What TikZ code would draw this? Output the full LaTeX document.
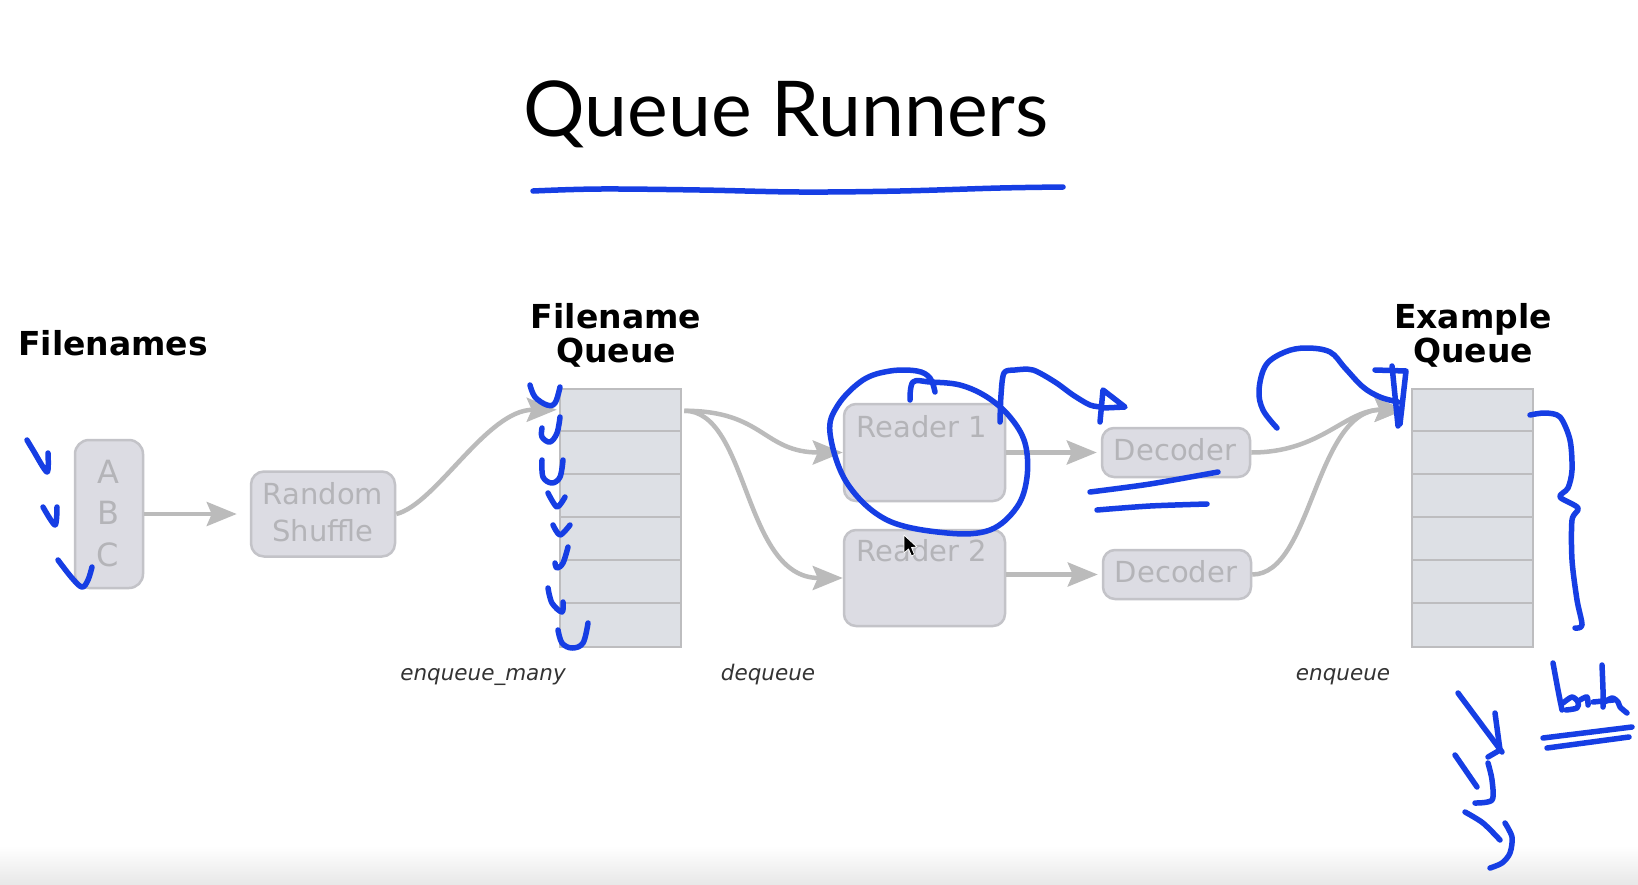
\documentclass[tikz,border=0pt]{standalone}
\usepackage{fontspec}
\setmainfont{DejaVu Sans}
\newfontfamily\titlefont{Lato}
\usetikzlibrary{arrows.meta,calc}

\definecolor{boxfill}{HTML}{DCDCE3}
\definecolor{boxline}{HTML}{C3C3C8}
\definecolor{boxtext}{HTML}{B4B4B8}
\definecolor{qfill}{HTML}{DDE0E5}
\definecolor{qline}{HTML}{BDBDBF}
\definecolor{arrowgray}{HTML}{BBBBBB}
\definecolor{opgray}{HTML}{333333}
\definecolor{inkblue}{RGB}{22,62,228}

\tikzset{
  gbox/.style={draw=boxline, fill=boxfill, line width=2.5pt, rounded corners=13pt, inner sep=0pt},
  qbox/.style={draw=qline, fill=qfill, line width=2.5pt, inner sep=0pt},
  rowline/.style={draw=qline, line width=2pt},
  boxtxt/.style={text=boxtext, font=\fontsize{29}{34}\selectfont, anchor=base, inner sep=0pt},
  head/.style={font=\fontsize{33}{34}\selectfont\bfseries, anchor=base, inner sep=0pt},
  opname/.style={font=\fontsize{21.5}{24}\selectfont\itshape, text=opgray, anchor=base, inner sep=0pt},
  flow/.style={draw=arrowgray, line width=4.5pt, -{Stealth[length=30pt,width=24pt,inset=5pt]}},
  ink/.style={draw=inkblue, line width=5.5pt, line cap=round, line join=round},
}

\begin{document}
\begin{tikzpicture}[x=1pt,y=-1pt]
\useasboundingbox (0,0) rectangle (1638,884);
\fill[white] (0,0) rectangle (1638,884);
\shade[top color=white, bottom color=black!9] (0,846) rectangle (1638,884);

% title
\node[font=\titlefont\fontsize{77}{90}\selectfont, anchor=base, inner sep=0pt] (title) at (786,136) {Queue Runners};

% headings
\node[head, anchor=base west] (hfiles) at (18,355) {Filenames};
\node[head] (hfq1) at (616,328) {Filename};
\node[head] (hfq2) at (616,362) {Queue};
\node[head] (heq1) at (1473,328) {Example};
\node[head] (heq2) at (1473,362) {Queue};

% filenames
\node[gbox, rounded corners=14pt, minimum width=68pt, minimum height=148pt] (abc) at (109,514) {};
\node[boxtxt, font=\fontsize{32}{34}\selectfont] (fa) at (108,483) {A};
\node[boxtxt, font=\fontsize{32}{34}\selectfont] (fb) at (108,524) {B};
\node[boxtxt, font=\fontsize{32}{34}\selectfont] (fc) at (108,566) {C};

% random shuffle
\node[gbox, minimum width=144pt, minimum height=85pt] (shuf) at (323,514) {};
\node[boxtxt] (shuf1) at (323,504) {Random};
\node[boxtxt] (shuf2) at (323,541) {Shuffle};

% filename queue
\node[qbox, minimum width=121pt, minimum height=258pt] (fq) at (620.5,518) {};
\foreach \k in {1,...,5}
  \draw[rowline] ($(fq.north west)+(0,43*\k)$) -- ($(fq.north east)+(0,43*\k)$);
\coordinate (fqin) at ($(fq.north west)+(-2,22)$);
\coordinate (fqout) at ($(fq.north east)+(2,23)$);

% readers
\node[gbox, rounded corners=12pt, minimum width=161pt, minimum height=97pt] (r1) at (924.5,452.5) {};
\node[boxtxt] (r1t) at (922,437) {Reader 1};
\node[gbox, rounded corners=12pt, minimum width=161pt, minimum height=96pt] (r2) at (924.5,578) {};
\node[boxtxt] (r2t) at (922,561) {Reader 2};

% decoders
\node[gbox, rounded corners=12pt, minimum width=148pt, minimum height=49pt] (d1) at (1176,452.5) {};
\node[boxtxt] (d1t) at (1175,460) {Decoder};
\node[gbox, rounded corners=12pt, minimum width=148pt, minimum height=49pt] (d2) at (1177,574.5) {};
\node[boxtxt] (d2t) at (1176,582) {Decoder};

% example queue
\node[qbox, minimum width=121pt, minimum height=258pt] (eq) at (1472.5,518) {};
\foreach \k in {1,...,5}
  \draw[rowline] ($(eq.north west)+(0,43*\k)$) -- ($(eq.north east)+(0,43*\k)$);
\coordinate (eqin) at ($(eq.north west)+(-6,22)$);

% operation names
\node[opname] (openqm) at (483,680) {enqueue\_many};
\node[opname] (opdeq) at (768,680) {dequeue};
\node[opname] (openq) at (1343,680) {enqueue};

% data flow
\draw[flow, shorten >=13pt] (abc.east) -- (abc.east -| shuf.west);
\draw[flow] (shuf.east) .. controls +(40,-10) and +(-70,0) .. (fqin);
\draw[flow] (fqout) .. controls +(80,0) and +(-80,0) .. (r1.west);
\draw[flow] (fqout) .. controls +(65,0) and +(-100,0) .. (r2.west);
\draw[flow, shorten >=4pt] (r1.east |- d1.west) -- (d1.west);
\draw[flow, shorten >=4pt] (r2.east |- d2.west) -- (d2.west);
\draw[flow] (d1.east) .. controls +(70,0) and +(-60,0) .. (eqin);
\draw[flow] (d2.east) .. controls +(60,0) and +(-90,0) .. (eqin);

% pen strokes
\draw[ink] plot[smooth, tension=0.6] coordinates {(533,191) (600,189) (700,190) (800,192) (900,191) (1000,188) (1063,187)};

\draw[ink] plot[smooth, tension=0.5] coordinates {(27,440) (33,450) (47,472) (48,453)};
\draw[ink] plot[smooth, tension=0.5] coordinates {(43,507) (55,525) (57,507)};
\draw[ink] plot[smooth, tension=0.6] coordinates {(58,560) (72,578) (82,587) (88,580) (92,567)};

\draw[ink] plot[smooth, tension=0.6] coordinates {(530,385) (535,397) (547,405) (555,403) (560,387)};
\draw[ink] plot[smooth, tension=0.6] coordinates {(560,417) (557,433) (550,442) (542,437) (542,428)};
\draw[ink] plot[smooth, tension=0.6] coordinates {(542,460) (543,477) (552,483) (560,477) (563,460)};
\draw[ink] plot[smooth, tension=0.5] coordinates {(548,493) (557,507) (565,497)};
\draw[ink] plot[smooth, tension=0.5] coordinates {(553,525) (560,535) (570,525)};
\draw[ink] plot[smooth, tension=0.6] coordinates {(568,547) (563,563) (557,568) (555,563)};
\draw[ink] plot[smooth, tension=0.6] coordinates {(548,588) (552,603) (562,612) (563,602)};
\draw[ink] plot[smooth, tension=0.6] coordinates {(558,630) (562,643) (572,648) (583,643) (588,623)};

\draw[ink] plot[smooth, tension=0.6] coordinates {(935,392) (930,378) (917,371) (890,371) (863,380) (838,405) (830,433) (847,483) (887,520) (947,533) (990,530) (1017,507) (1027,477) (1025,443) (1010,417) (987,397) (960,385) (930,382) (913,382) (910,400)};
\draw[ink] plot[smooth, tension=0.5] coordinates {(1000,422) (1001,395) (1004,373) (1015,370) (1033,370) (1055,382) (1073,395) (1090,405) (1102,407)};
\draw[ink] (1100,422) -- (1103,390) -- (1125,407) -- (1103,408);

\draw[ink] plot[smooth, tension=0.5] coordinates {(1090,492) (1150,484) (1218,472)};
\draw[ink] plot[smooth, tension=0.5] coordinates {(1097,510) (1150,506) (1207,504)};

\draw[ink] plot[smooth, tension=0.6] coordinates {(1277,428) (1263,410) (1259,390) (1266,365) (1285,352) (1306,348) (1330,352) (1345,368) (1363,387) (1380,397) (1398,402)};
\draw[ink] (1392,366) -- (1398,426);
\draw[ink] (1375,370) -- (1406,371) -- (1400,424);

\draw[ink] plot[smooth, tension=0.5] coordinates {(1530,415) (1545,413) (1560,417) (1570,440) (1572,470) (1568,488) (1560,497) (1578,508) (1572,520) (1572,560) (1577,600) (1582,625) (1575,628)};

\draw[ink] plot[smooth, tension=0.4] coordinates {(1553,663) (1558,690) (1562,710)};
\draw[ink] plot[smooth, tension=0.5] coordinates {(1563,703) (1572,697) (1578,702) (1577,708) (1566,710)};
\draw[ink] plot[smooth, tension=0.5] coordinates {(1580,700) (1587,697) (1588,705)};
\draw[ink] plot[smooth, tension=0.4] coordinates {(1602,665) (1603,690) (1603,707)};
\draw[ink] (1593,702) -- (1613,700);
\draw[ink] plot[smooth, tension=0.5] coordinates {(1603,703) (1612,698) (1618,702) (1620,707) (1627,713)};
\draw[ink] (1543,738) -- (1632,727);
\draw[ink] (1547,748) -- (1629,737);

\draw[ink] (1458,693) -- (1502,752);
\draw[ink] (1495,713) -- (1500,750) -- (1488,757);
\draw[ink] (1455,755) -- (1477,787);
\draw[ink] plot[smooth, tension=0.5] coordinates {(1488,763) (1492,780) (1492,800) (1475,803)};
\draw[ink] plot[smooth, tension=0.5] coordinates {(1465,812) (1483,823) (1500,840)};
\draw[ink] plot[smooth, tension=0.5] coordinates {(1505,823) (1512,837) (1510,853) (1502,863) (1490,868)};

% pointer
\filldraw[fill=black, draw=white, line width=0.8pt, line join=round]
  (904,535) -- (904,553) -- (908.5,549) -- (911.5,556) -- (914.5,554.5) -- (911.5,547.5) -- (917,547) -- cycle;
\end{tikzpicture}
\end{document}
